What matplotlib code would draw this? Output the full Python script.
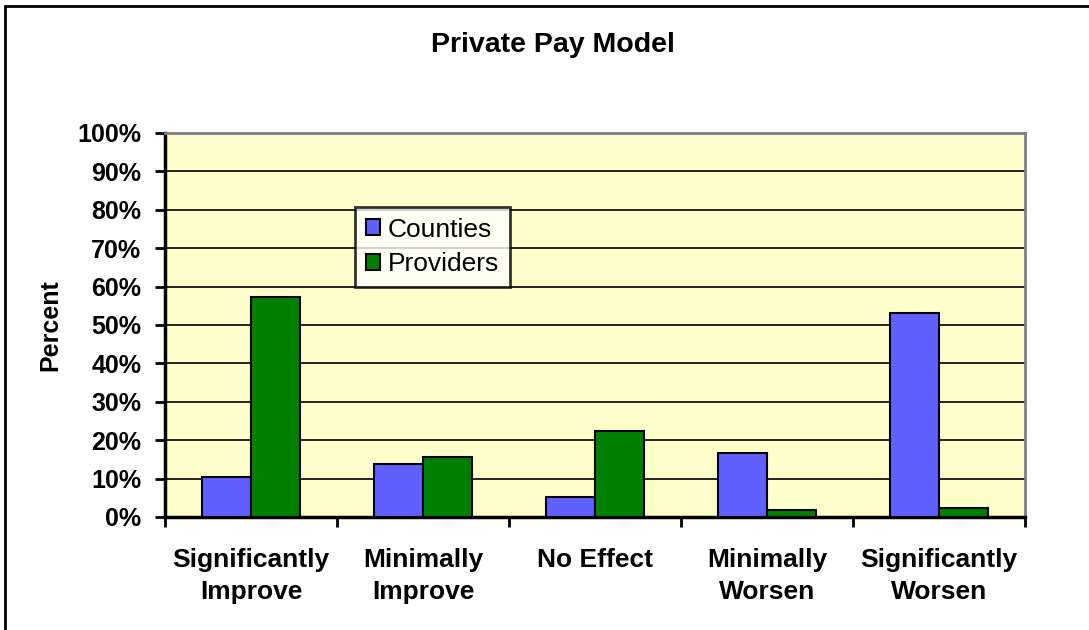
import numpy as np
import matplotlib
matplotlib.use('Agg')
import matplotlib.pyplot as plt
from matplotlib.patches import Rectangle
from matplotlib.ticker import MultipleLocator, PercentFormatter

plt.rcParams['font.family'] = ['Liberation Sans', 'DejaVu Sans']

categories = [
    'Significantly\nImprove',
    'Minimally\nImprove',
    'No Effect',
    'Minimally\nWorsen',
    'Significantly\nWorsen'
]
counties = [10.3, 13.9, 5.1, 16.6, 53.2]
providers = [57.4, 15.5, 22.3, 1.9, 2.4]

# ======================
# FIGURE / AXES
# ======================

fig = plt.figure(
    figsize=(10.89, 6.30),
    dpi=100
)

ax = fig.add_axes(
    [165/1089, 1-517/630, 860/1089, 384/630]
)
ax.set_facecolor('#FFFFCC')

x = np.arange(len(categories))
width = 0.284

ax.bar(
    x - width/2,
    counties,
    width,
    color='#6060FF',
    edgecolor='black',
    linewidth=1.5,
    label='Counties',
    zorder=3
)

ax.bar(
    x + width/2,
    providers,
    width,
    color='#008000',
    edgecolor='black',
    linewidth=1.5,
    label='Providers',
    zorder=3
)

ax.set_xlim(-0.5, len(categories) - 0.5)
ax.set_ylim(0, 100)

ax.yaxis.set_major_locator(MultipleLocator(10))
ax.yaxis.set_major_formatter(PercentFormatter(decimals=0))
ax.grid(axis='y', color='black', linewidth=1.2, zorder=1)

# category boundaries get the tick marks, names sit between them
ax.set_xticks(np.append(x - 0.5, len(categories) - 0.5))
ax.set_xticklabels([])
ax.set_xticks(x, minor=True)
ax.set_xticklabels(categories, minor=True, fontsize=19, fontweight='bold',
                   linespacing=1.45)
ax.tick_params(axis='x', which='minor', length=0, pad=22)
ax.tick_params(axis='x', which='major', length=7, width=2, direction='out')
ax.tick_params(axis='y', length=7, width=2, direction='out', pad=10,
               labelsize=18)
for lab in ax.get_yticklabels():
    lab.set_fontweight('bold')

ax.spines['left'].set_linewidth(2.5)
ax.spines['bottom'].set_linewidth(2.5)
ax.spines['top'].set_color('#808080')
ax.spines['right'].set_color('#808080')
ax.spines['top'].set_linewidth(2)
ax.spines['right'].set_linewidth(2)

# legend box
leg = ax.legend(
    loc='upper left',
    bbox_to_anchor=((355-165)/860, (517-207)/384),
    fontsize=19,
    frameon=True,
    fancybox=False,
    edgecolor='black',
    handlelength=0.55,
    handleheight=0.55,
    handletextpad=0.3,
    labelspacing=0.4,
    borderpad=0.4,
    borderaxespad=0
)
leg.get_frame().set_linewidth(2)
leg.set_zorder(5)

# title and axis label
fig.text(553/1089, 1-45/630, 'Private Pay Model', ha='center', va='center',
         fontsize=20.5, fontweight='bold')
fig.text(50/1089, 1-325/630, 'Percent', ha='center', va='center',
         rotation=90, fontsize=18, fontweight='bold')

# chart frame
fig.patches.append(Rectangle(
    (5/1089, -0.1), 1.2, 1 - 6/630 + 0.1,
    transform=fig.transFigure, fill=False, edgecolor='black', linewidth=2
))

plt.savefig('out.png', dpi=100)
plt.close()
